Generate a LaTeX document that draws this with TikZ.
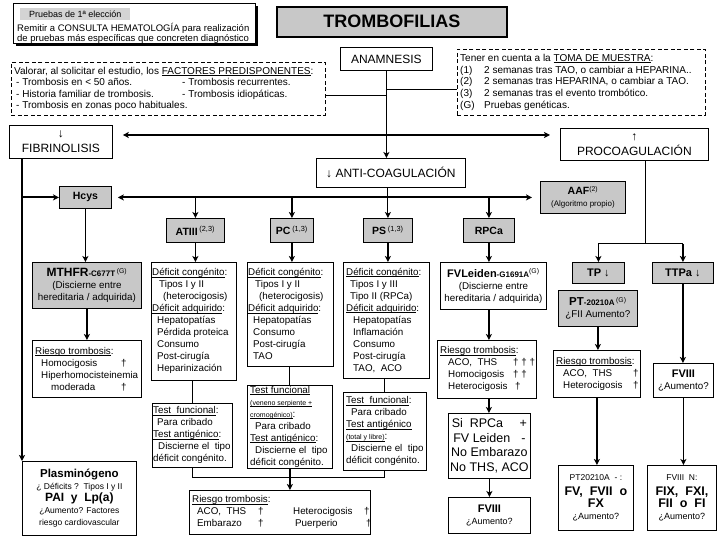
\documentclass[tikz,border=0pt]{standalone}
\usepackage{fontspec}
\setmainfont{Liberation Sans}
\usetikzlibrary{arrows.meta,calc}
\definecolor{boxgray}{RGB}{200,200,200}
\definecolor{lblgray}{RGB}{212,212,212}
\newcommand{\fs}[2]{\fontsize{#1}{#2}\selectfont}
\newcommand{\uln}[1]{\setbox0\hbox{#1}\rlap{\rule[-1.4pt]{\wd0}{0.7pt}}\box0}
\newcommand{\bx}[7]{\node[#1, minimum width=#5pt-#3pt, minimum height=#6pt-#4pt] (#2) at (#3,#4) {#7};}
\newcommand{\lbx}[8]{\node[#1, minimum width=#5pt-#3pt, minimum height=#6pt-#4pt] (#2) at (#3,#4) {};
  \node[anchor=west, align=left, inner sep=0pt, #7] (#2t) at ($(#2.west)+(3,0)$) {#8};}
\begin{document}
\begin{tikzpicture}[x=1pt,y=-1pt, font=\fs{9.8}{12},
  box/.style={draw, line width=0.8pt, fill=white, inner sep=1pt, anchor=north west, align=center},
  gbox/.style={box, fill=boxgray},
  dbox/.style={box, dashed, dash pattern=on 4pt off 2.5pt},
  >={Stealth[length=6pt,width=6pt,inset=1.5pt]},
  arr/.style={line width=1.8pt, ->},
  tarr/.style={line width=1pt, ->},
  ln/.style={line width=1pt}]
\fill[white] (0,0) rectangle (720,540);
\useasboundingbox (0,0) rectangle (720,540);

% ---------- top ----------
\fill (16,6) rectangle (258,46);
\bx{box, line width=1pt}{tl}{13}{3}{255}{43}{}
\node[fill=lblgray, anchor=north west, minimum width=110pt, minimum height=12pt, inner sep=0pt, font=\fs{9}{11}] (lbl) at (20,8) {Pruebas de 1ª elección};
\node[anchor=north west, align=left, inner sep=0pt, font=\fs{9.5}{10.5}] (tltx) at (17,23) {Remitir a CONSULTA HEMATOLOGÍA para realización\\de pruebas más específicas que concreten diagnóstico};

\bx{gbox, line width=1.6pt, font=\fs{18}{20}\bfseries}{title}{276}{6}{506}{36}{TROMBOFILIAS}
\bx{box, font=\fs{12}{14}}{anam}{340}{47}{432}{70}{ANAMNESIS}

\lbx{dbox}{pred}{11}{62}{325}{115}{font=\fs{10}{11.3}}{Valorar, al solicitar el estudio, los \uln{FACTORES PREDISPONENTES}:\\\hspace*{2pt}\makebox[166pt][l]{- Trombosis en < 50 años.}- Trombosis recurrentes.\\\hspace*{2pt}\makebox[166pt][l]{- Historia familiar de trombosis.}- Trombosis idiopáticas.\\\hspace*{2pt}- Trombosis en zonas poco habituales.}

\lbx{dbox}{toma}{457}{49}{705}{115}{font=\fs{10}{11.7}}{Tener en cuenta a la \uln{TOMA DE MUESTRA}:\\\makebox[24pt][l]{(1)}2 semanas tras TAO, o cambiar a HEPARINA..\\\makebox[24pt][l]{(2)}2 semanas tras HEPARINA, o cambiar a TAO.\\\makebox[24pt][l]{(3)}2 semanas tras el evento trombótico.\\\makebox[24pt][l]{(G)}Pruebas genéticas.}

% ---------- second level ----------
\bx{box, font=\fs{12}{15}}{fib}{9}{125}{112}{158}{↓\\FIBRINOLISIS}
\bx{box, font=\fs{12}{15}}{proc}{560}{128}{708}{160}{↑\\PROCOAGULACIÓN}
\bx{box, font=\fs{12}{14}}{antico}{316}{158}{465}{187}{↓ ANTI-COAGULACIÓN}

\bx{gbox, font=\fs{10.5}{12}\bfseries}{hcys}{59}{186}{111}{208}{Hcys}
\bx{gbox}{aaf}{540}{181}{625}{213}{{\fs{10.5}{12}\bfseries AAF}\textsuperscript{(2)}\\{\fs{8}{10}(Algoritmo propio)}}

% ---------- gray row ----------
\bx{gbox, font=\fs{10.5}{12}}{atiii}{166}{218}{224}{242}{\textbf{ATIII}\,\textsuperscript{(2,3)}}
\bx{gbox, font=\fs{10.5}{12}}{pc}{270}{218}{313}{242}{\textbf{PC}\,\textsuperscript{(1,3)}}
\bx{gbox, font=\fs{10.5}{12}}{ps}{363}{218}{412}{242}{\textbf{PS}\,\textsuperscript{(1,3)}}
\bx{gbox, font=\fs{10.5}{12}}{rpca}{463}{218}{514}{242}{\textbf{RPCa}}

% ---------- deficit boxes ----------
\lbx{box}{atd}{151}{262}{236}{380}{xshift=-2pt}{\uln{Déficit congénito}:\\\hspace*{7pt}Tipos I y II\\\hspace*{11pt}(heterocigosis)\\\uln{Déficit adquirido}:\\\hspace*{5pt}Hepatopatías\\\hspace*{5pt}Pérdida proteica\\\hspace*{5pt}Consumo\\\hspace*{5pt}Post-cirugía\\\hspace*{5pt}Heparinización}
\lbx{box}{pcd}{247}{262}{333}{366}{xshift=-2pt}{\uln{Déficit congénito}:\\\hspace*{7pt}Tipos I y II\\\hspace*{11pt}(heterocigosis)\\\uln{Déficit adquirido}:\\\hspace*{5pt}Hepatopatías\\\hspace*{5pt}Consumo\\\hspace*{5pt}Post-cirugía\\\hspace*{5pt}TAO}
\lbx{box}{psd}{343}{262}{429}{378}{}{\uln{Déficit congénito}:\\\hspace*{4pt}Tipos I y III\\\hspace*{4pt}Tipo II (RPCa)\\\uln{Déficit adquirido}:\\\hspace*{7pt}Hepatopatías\\\hspace*{7pt}Inflamación\\\hspace*{7pt}Consumo\\\hspace*{7pt}Post-cirugía\\\hspace*{7pt}TAO,\ \ ACO}

% ---------- test boxes ----------
\lbx{box}{att}{152}{403}{232}{467}{xshift=-2pt}{\uln{Test\ \ funcional}:\\\hspace*{4pt}Para cribado\\\uln{Test antigénico}:\\\hspace*{5pt}Discierne el\ \ tipo\\déficit congénito.}
\lbx{box}{pct}{247}{385}{332}{468}{}{\uln{Test funcional}\\{\fs{7}{7}\uln{(veneno serpiente\ +}}\\{\fs{7}{7}\uln{cromogénico)}}:\\\hspace*{5pt}Para cribado\\\uln{Test antigénico}:\\\hspace*{5pt}Discierne el\ \ tipo\\déficit congénito.}
\lbx{box}{pst}{343}{392}{426}{470}{}{\uln{Test\ \ funcional}:\\\hspace*{5pt}Para cribado\\\uln{Test antigénico}\\{\fs{7}{7}\uln{(total y libre)}}:\\\hspace*{5pt}Discierne el\ \ tipo\\déficit congénito.}

\lbx{box}{rb}{189}{490}{370}{534}{}{\uln{Riesgo trombosis}:\\\hspace*{5pt}\makebox[61pt][l]{ACO,\ \ THS}\makebox[35pt][l]{†}\makebox[71pt][l]{Heterocigosis}†\\\hspace*{5pt}\makebox[61pt][l]{Embarazo}\makebox[37pt][l]{†}\makebox[71pt][l]{Puerperio}†}

% ---------- left column ----------
\bx{gbox}{mthfr}{32}{262}{141}{308}{{\fs{12}{14}\bfseries MTHFR}{\fs{8}{10}\bfseries -C677T}\,\textsuperscript{(G)}\\(Discierne entre\\hereditaria / adquirida)}
\lbx{box}{mrisk}{32}{340}{141}{397}{}{\uln{Riesgo trombosis}:\\\hspace*{6pt}\makebox[80pt][l]{Homocigosis}†\\\hspace*{6pt}Hiperhomocisteinemia\\\hspace*{16pt}\makebox[70pt][l]{moderada}†}
\bx{box}{plasm}{22}{461}{136}{535}{{\fs{11.5}{13}\bfseries Plasminógeno}\\{\fs{8.5}{10}¿ Déficits ?\ \ Tipos I y II}\\{\fs{12}{14}\bfseries PAI\ \ y\ \ Lp(a)}\\{\fs{8.5}{10}¿Aumento? Factores}\\{\fs{8.5}{10}riesgo cardiovascular}}

% ---------- RPCa column ----------
\bx{box}{fvl}{440}{262}{546}{309}{{\fs{11}{13}\bfseries FVLeiden}{\fs{8}{10}\bfseries -G1691A}\textsuperscript{(G)}\\(Discierne entre\\hereditaria / adquirida)}
\lbx{box}{frisk}{437}{340}{536}{398}{}{\uln{Riesgo trombosis}:\\\hspace*{8pt}\makebox[65pt][l]{ACO,\ \ THS}†\ †\ †\\\hspace*{8pt}\makebox[65pt][l]{Homocigosis}†\ †\\\hspace*{8pt}\makebox[67pt][l]{Heterocigosis}†}
\bx{box, font=\fs{12.5}{14.5}}{sirpca}{448}{413}{530}{478}{\makebox[68pt][l]{Si\ \ RPCa}+\\\makebox[68pt][l]{FV Leiden}-\\No Embarazo\\No THS, ACO}
\bx{box}{fviii1}{448}{497}{530}{533}{{\fs{11}{13}\bfseries FVIII}\\{\fs{9}{11}¿Aumento?}}

% ---------- right column ----------
\bx{gbox, font=\fs{11}{13}}{tp}{572}{262}{624}{283}{\textbf{TP} ↓}
\bx{gbox, font=\fs{11}{13}}{ttpa}{652}{262}{713}{283}{\textbf{TTPa} ↓}
\bx{gbox}{pt}{558}{290}{637}{326}{{\fs{11.5}{13}\bfseries PT}{\fs{8}{10}\bfseries -20210A}\,\textsuperscript{(G)}\\¿FII Aumento?}
\lbx{box}{prisk}{553}{350}{640}{397}{}{\uln{Riesgo trombosis}:\\\hspace*{7pt}\makebox[70pt][l]{ACO,\ \ THS}†\\\hspace*{7pt}\makebox[70pt][l]{Heterocigosis}†}
\bx{box}{fviii2}{653}{363}{713}{397}{{\fs{11}{13}\bfseries FVIII}\\¿Aumento?}
\bx{box}{ptb}{558}{465}{633}{530}{{\fs{8.5}{11}PT20210A\ \ - :}\\[3pt]{\fs{12.5}{14}\bfseries FV,\ \ FVII\ \ o}\\{\fs{12.5}{14}\bfseries FX}\\{\fs{9}{11}¿Aumento?}}
\bx{box}{fixb}{647}{465}{716}{530}{{\fs{8.5}{11}FVIII\ \ N:}\\[3pt]{\fs{12.5}{14}\bfseries FIX,\ \ FXI,}\\{\fs{12.5}{14}\bfseries FII\ \ o\ \ FI}\\{\fs{9}{11}¿Aumento?}}

% ---------- connectors ----------
\draw[arr] (anam.south) -- (anam.south |- antico.north);
\draw[ln] (pred.east |- 0,96) -- (anam.south |- 0,96);
\draw[ln] (anam.south |- 0,90) -- (toma.west |- 0,90);
\draw[arr, <->] ($(fib.east |- 0,135)+(10,0)$) -- ($(proc.west |- 0,135)+(-10,0)$);

\coordinate (fl) at ($(fib.south west)+(13,0)$);
\draw[arr] (fl) -- (fl |- plasm.north);
\draw[arr] (fl |- hcys.west) -- (hcys.west);
\draw[arr, <->] ($(hcys.east)+(6,0)$) -- ($(aaf.west)+(-8,0)$);
\draw[arr, line width=1.5pt] (atiii.north |- hcys.east) -- (atiii.north);
\draw[arr, line width=1.5pt] (pc.north |- hcys.east) -- (pc.north);
\draw[arr, line width=1.5pt] (rpca.north |- hcys.east) -- (rpca.north);
\draw[tarr] (ps.north |- antico.south) -- (ps.north);

\draw[arr] (atiii.south) -- (atiii.south |- atd.north);
\draw[arr] (pc.south) -- (pc.south |- pcd.north);
\draw[arr] (ps.south) -- (ps.south |- psd.north);

\draw[ln] (att.north |- atd.south) -- (att.north);
\draw[ln] (pct.north |- pcd.south) -- (pct.north);
\draw[ln] (pst.north |- psd.south) -- (pst.north);
\draw[ln] (att.south) -- (att.south |- 0,477) -- (pst.south |- 0,477) -- (pst.south);
\draw[arr] (pct.south) -- (pct.south |- rb.north);

\draw[arr] (hcys.south) -- (hcys.south |- mthfr.north);
\draw[arr] (mthfr.south) -- (mthfr.south |- mrisk.north);

\draw[arr] (rpca.south) -- (rpca.south |- fvl.north);
\draw[arr] (rpca.south |- fvl.south) -- (rpca.south |- frisk.north);
\draw[arr] (rpca.south |- frisk.south) -- (rpca.south |- sirpca.north);
\draw[tarr, line width=1.3pt] (sirpca.south) -- (sirpca.south |- fviii1.north);

\coordinate (pj) at ($(proc.south)+(11,0)$);
\coordinate (pk) at ($(pj)+(0,83)$);
\draw[ln] (pj) -- (pk);
\draw[ln] (tp.north |- pk) -- (ttpa.north |- pk);
\draw[arr] (tp.north |- pk) -- (tp.north);
\draw[arr] (ttpa.north |- pk) -- (ttpa.north);
\draw[arr] (pt.south) -- (pt.south |- prisk.north);
\draw[arr] (ttpa.south) -- (ttpa.south |- fviii2.north);
\draw[arr] (prisk.south) -- (prisk.south |- ptb.north);
\draw[arr] (fviii2.south) -- (fviii2.south |- fixb.north);
\end{tikzpicture}
\end{document}
